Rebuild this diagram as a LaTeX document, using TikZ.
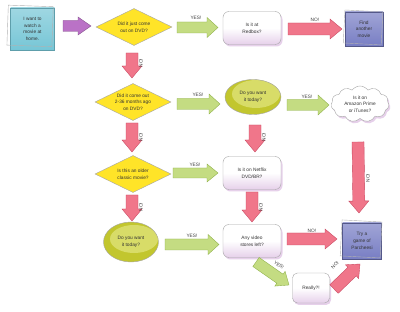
\documentclass[tikz,border=0pt]{standalone}
\usepackage{fontspec}
\setmainfont{Liberation Sans}
\usetikzlibrary{calc,shapes.geometric,shapes.symbols,shadows}
\definecolor{teal1}{RGB}{118,198,214}
\definecolor{purparrow}{RGB}{186,114,198}
\definecolor{yel}{RGB}{255,228,40}
\definecolor{grn}{RGB}{196,220,130}
\definecolor{grnd}{RGB}{140,175,70}
\definecolor{rd}{RGB}{240,118,138}
\definecolor{rdd}{RGB}{200,70,95}
\definecolor{olive}{RGB}{194,198,46}
\definecolor{olivel}{RGB}{216,220,104}
\definecolor{lav}{RGB}{230,208,234}
\definecolor{blu}{RGB}{120,126,196}
\begin{document}
\begin{tikzpicture}[x=1pt,y=-1pt,
  txt/.style={font=\fontsize{4.8}{6.7}\selectfont, align=center, text=black!80, inner sep=0pt},
  alab/.style={font=\fontsize{4.8}{5}\selectfont, text=black!75, inner sep=0pt},
  note/.style={txt, rectangle, minimum width=44pt, minimum height=42pt,
    top color=teal1!70!white, bottom color=teal1, draw=teal1!80!black, line width=0.3pt},
  sq/.style={txt, rectangle, minimum width=38pt, minimum height=34pt,
    top color=blu!70!white, bottom color=blu, draw=blu!70!black, line width=0.3pt},
  diam/.style={txt, diamond, aspect=2, minimum width=76pt, minimum height=37pt,
    fill=yel, draw=gray!70, line width=0.4pt},
  ell/.style={txt, ellipse, minimum width=56pt, minimum height=35pt,
    fill=olive, draw=gray!70, line width=0.4pt,
    path picture={\fill[olivel] ([xshift=3pt,yshift=3pt]path picture bounding box.center) ellipse (24pt and 14pt);}},
  rbox/.style={txt, rectangle, rounded corners=6pt, minimum width=58pt, minimum height=33pt,
    draw=gray!70, line width=0.4pt,
    drop shadow={shadow xshift=1.5pt, shadow yshift=-2pt, fill=lav, opacity=1},
    top color=white, bottom color=lav, middle color=white},
  cld/.style={cloud, cloud puffs=11, cloud puff arc=110, aspect=1.6, inner sep=0pt,
    minimum width=58pt, minimum height=36pt, fill=white, draw=gray!70, line width=0.4pt,
    drop shadow={shadow xshift=1.5pt, shadow yshift=-2pt, fill=lav, opacity=1}},
  barrow/.style n args={3}{to path={
    ($(\tikztostart)!#1!90:(\tikztotarget)$)
    -- ($(\tikztotarget)!#3!(\tikztostart)!#1!90:(\tikztotarget)$)
    -- ($(\tikztotarget)!#3!(\tikztostart)!#2!90:(\tikztotarget)$)
    -- (\tikztotarget)
    -- ($(\tikztotarget)!#3!(\tikztostart)!#2!-90:(\tikztotarget)$)
    -- ($(\tikztotarget)!#3!(\tikztostart)!#1!-90:(\tikztotarget)$)
    -- ($(\tikztostart)!#1!-90:(\tikztotarget)$)
    -- cycle}},
  garrow/.style={fill=grn, draw=grnd, line width=0.35pt, barrow={5.5pt}{10pt}{11pt}},
  rarrow/.style={fill=rd, draw=rdd, line width=0.35pt, barrow={6pt}{10pt}{12pt}},
  parrow/.style={fill=purparrow, draw=purparrow!70!black, line width=0.35pt, barrow={5.5pt}{9pt}{13pt}},
  frame/.style={draw=gray!60, line width=0.4pt}
]
\fill[white] (0,0) rectangle (400,312);
\useasboundingbox (0,0) rectangle (400,312);

% nodes
\node[note] (start) at (32.5,29) {I want to\\watch a\\movie at\\home.};
\draw[frame, rotate around={-2:(start.center)}] ($(start.center)+(-25,-23)$) rectangle ($(start.center)+(20,17)$);
\node[diam] (d1) at (134,27) {Did it just come\\out on DVD?};
\node[rbox] (redbox) at (252,28) {Is it at\\Redbox?};
\node[sq] (find) at (364,29) {Find\\another\\movie};
\draw[frame, rotate around={-3:(find.center)}] ($(find.center)+(-20,-18)$) rectangle ($(find.center)+(18,15)$);
\node[diam] (d2) at (133,102) {Did it come out\\2-36 months ago\\on DVD?};
\node[ell] (e1) at (253,97) {Do you want\\it today?};
\node[cld] (cloud) at (360,104) {};
\node[txt] (cloudtxt) at (cloud.center) {Is it on\\Amazon Prime\\or iTunes?};
\node[diam] (d3) at (133,174) {Is this an older\\classic movie?};
\node[rbox] (netflix) at (252,173) {Is it on Netflix\\DVD/BR?};
\node[ell, minimum width=55pt, minimum height=40pt] (e2) at (131,242) {Do you want\\it today?};
\node[rbox] (stores) at (252,241) {Any video\\stores left?};
\node[sq, minimum width=39pt, minimum height=36pt] (parch) at (362,241) {Try a\\game of\\Parcheesi};
\draw[frame, rotate around={-3:(parch.center)}] ($(parch.center)+(-21,-20)$) rectangle ($(parch.center)+(19,16)$);
\node[rbox, minimum width=37pt, minimum height=30pt, rounded corners=5pt] (really) at (311,288) {Really?!};

% arrow end points
\coordinate (p1s) at (63,26);    \coordinate (p1e) at (91,26);
\coordinate (g1s) at (177,27.5); \coordinate (g1e) at (218,27.5);
\coordinate (r1s) at (288,29);   \coordinate (r1e) at (342,29);
\coordinate (v1s) at (132,53);   \coordinate (v1e) at (132,78);
\coordinate (g2s) at (177,104);  \coordinate (g2e) at (220,104);
\coordinate (g3s) at (287,105);  \coordinate (g3e) at (329,105);
\coordinate (v2s) at (255,125);  \coordinate (v2e) at (255,152);
\coordinate (v3s) at (132,123);  \coordinate (v3e) at (132,152);
\coordinate (g4s) at (173,173);  \coordinate (g4e) at (218,173);
\coordinate (v4s) at (132,195);  \coordinate (v4e) at (132,221);
\coordinate (v5s) at (252,192);  \coordinate (v5e) at (252,222);
\coordinate (v6s) at (358,142);  \coordinate (v6e) at (359,213);
\coordinate (g5s) at (165,244.5);\coordinate (g5e) at (219,244.5);
\coordinate (r2s) at (287,239);  \coordinate (r2e) at (337,239);
\coordinate (g6s) at (256,262);  \coordinate (g6e) at (289,285);
\coordinate (r3s) at (334,289);  \coordinate (r3e) at (360,264);

% arrows
\path[parrow] (p1s) to (p1e);
\path[garrow] (g1s) to (g1e);
\path[rarrow] (r1s) to (r1e);
\path[rarrow] (v1s) to (v1e);
\path[garrow] (g2s) to (g2e);
\path[garrow] (g3s) to (g3e);
\path[rarrow] (v2s) to (v2e);
\path[rarrow] (v3s) to (v3e);
\path[garrow, barrow={5pt}{9pt}{11pt}] (g4s) to (g4e);
\path[rarrow] (v4s) to (v4e);
\path[rarrow] (v5s) to (v5e);
\path[rarrow] (v6s) to (v6e);
\path[garrow] (g5s) to (g5e);
\path[rarrow] (r2s) to (r2e);
\path[garrow, barrow={5.5pt}{9pt}{11pt}] (g6s) to (g6e);
\path[rarrow, barrow={6pt}{9.5pt}{11pt}] (r3s) to (r3e);

% labels
\node[alab] (l1) at (196,18) {YES!};
\node[alab] (l2) at (315,20) {NO!};
\node[alab, rotate=90] (l3) at (141,63) {NO!};
\node[alab] (l4) at (198,95) {YES!};
\node[alab] (l5) at (307,97) {YES!};
\node[alab, rotate=90] (l6) at (264,137) {NO!};
\node[alab, rotate=90] (l7) at (141,137) {NO!};
\node[alab] (l8) at (195,165) {YES!};
\node[alab, rotate=90] (l9) at (141,207) {NO!};
\node[alab, rotate=90] (l10) at (261,207) {NO!};
\node[alab, rotate=90] (l11) at (368,178) {NO!};
\node[alab] (l12) at (192,236) {YES!};
\node[alab] (l13) at (312,231) {NO!};
\node[alab, rotate=-35] (l14) at (279,265) {YES!};
\node[alab, rotate=44] (l15) at (335,265) {NO!};
\end{tikzpicture}
\end{document}
